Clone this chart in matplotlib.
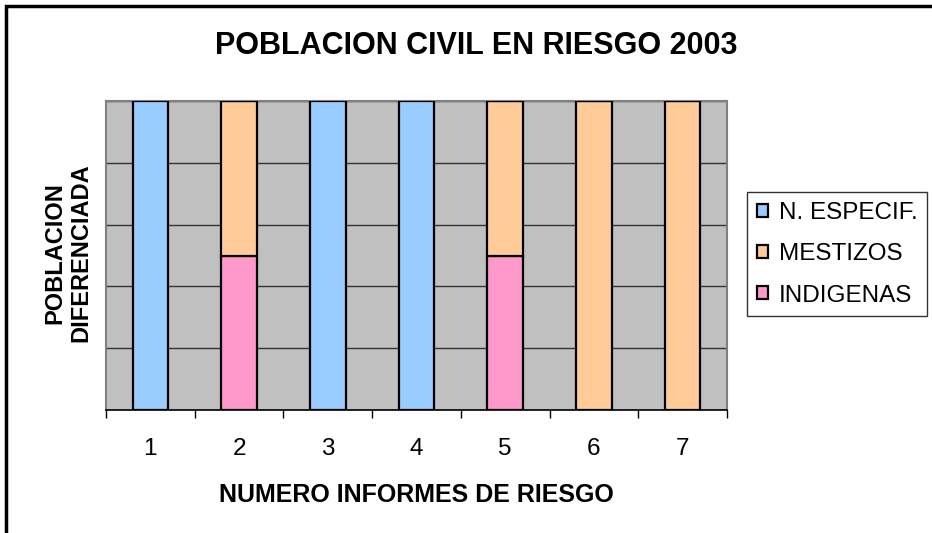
import numpy as np
import matplotlib.pyplot as plt
from matplotlib.patches import Rectangle

plt.rcParams['font.family'] = ['Liberation Sans', 'DejaVu Sans']

# data (100% stacked, counts per report)
informes = ['1', '2', '3', '4', '5', '6', '7']
indigenas = [0, 1, 0, 0, 1, 0, 0]
mestizos = [0, 1, 0, 0, 1, 1, 1]
n_especif = [1, 0, 1, 1, 0, 0, 0]

series = [
    ('INDIGENAS', indigenas, '#FF99CC'),
    ('MESTIZOS', mestizos, '#FFCC99'),
    ('N. ESPECIF.', n_especif, '#99CCFF'),
]

totals = np.sum([s[1] for s in series], axis=0).astype(float)

fig = plt.figure(figsize=(9.32, 5.33), dpi=100)
ax = fig.add_axes([106 / 932, 1 - 410 / 533, (727 - 106) / 932, (410 - 101) / 533])
ax.set_facecolor('#C0C0C0')

x = np.arange(1, len(informes) + 1)
bottom = np.zeros(len(informes))
handles = []
for name, vals, color in series:
    pct = np.array(vals) / totals * 100
    b = ax.bar(x, pct, width=0.4, bottom=bottom, color=color,
               edgecolor='black', linewidth=1.6, label=name, zorder=3)
    handles.append(b)
    bottom += pct

ax.set_xlim(0.5, len(informes) + 0.5)
ax.set_ylim(0, 100)
ax.set_yticks([0, 20, 40, 60, 80, 100])
ax.set_yticklabels([])
ax.tick_params(axis='y', length=0)
ax.yaxis.grid(True, color='#333333', linewidth=1.0, zorder=1)

ax.set_xticks(np.arange(0.5, len(informes) + 1, 1.0))
ax.set_xticklabels([])
ax.tick_params(axis='x', which='major', length=6, width=1, color='black')
ax.set_xticks(x, minor=True)
ax.set_xticklabels(informes, minor=True, fontsize=17.5)
ax.tick_params(axis='x', which='minor', length=0, pad=20)

for side in ['top', 'left', 'right']:
    ax.spines[side].set_color('#808080')
    ax.spines[side].set_linewidth(1.5)
ax.spines['bottom'].set_color('black')
ax.spines['bottom'].set_linewidth(1.2)

ax.set_xlabel('NUMERO INFORMES DE RIESGO', fontsize=18, fontweight='bold', labelpad=17)
fig.text(68 / 932, 1 - 253 / 533, 'POBLACION\nDIFERENCIADA', rotation=90,
         fontsize=17, fontweight='bold', ha='center', va='center',
         linespacing=1.2)
fig.text(476 / 932, 1 - 46 / 533, 'POBLACION CIVIL EN RIESGO 2003',
         fontsize=22, fontweight='bold', ha='center', va='center')

leg = fig.legend(handles[::-1], [s[0] for s in series][::-1],
                 loc='upper left', bbox_to_anchor=(747 / 932, 1 - 192 / 533),
                 fontsize=17.5, frameon=True, fancybox=False, edgecolor='black',
                 handlelength=0.45, handleheight=0.45, handletextpad=0.45,
                 labelspacing=0.8, borderpad=0.4, borderaxespad=0)
leg.get_frame().set_linewidth(1.0)

# outer chart border (runs off the right and bottom edges)
fig.patches.append(Rectangle((6 / 932, -0.05), 1.1, 1 - 6 / 533 + 0.05,
                             transform=fig.transFigure, fill=False,
                             edgecolor='black', linewidth=2.5))

fig.savefig('out.png', dpi=100)
